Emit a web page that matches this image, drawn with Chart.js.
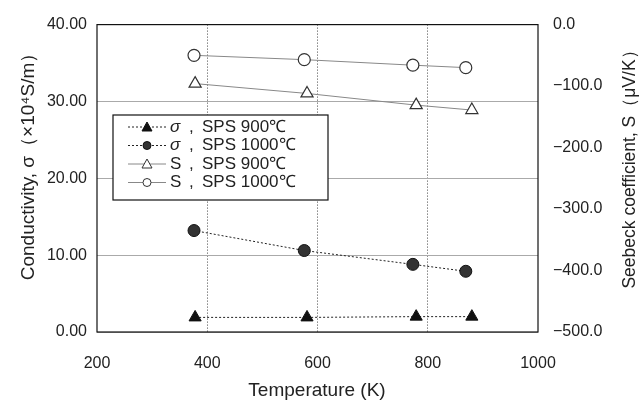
<!DOCTYPE html>
<html>
<head>
<meta charset="utf-8">
<script src="https://cdn.jsdelivr.net/npm/chart.js@4"></script>
<style>
  body { margin: 0; background: #fff; }
  #wrap { width: 640px; height: 401px; }
</style>
</head>
<body>
<div id="wrap"><canvas id="canvas" width="640" height="401"></canvas></div>
<script>
// temperatures (K) for the two sintering conditions
let temp900 = [378, 581, 779, 880]
let temp1000 = [376, 576, 773, 869]

// conductivity (x10^4 S/m)
let sigma900 = [1.9, 1.9, 2.0, 2.0]
let sigma1000 = [13.2, 10.6, 8.8, 7.9]

// Seebeck coefficient (uV/K)
let seebeck900 = [-96, -112, -131, -139]
let seebeck1000 = [-50, -57, -66, -70]

let legendLabels = ['σ', 'σ', 'S', 'S']
let legendConds = ['SPS 900℃', 'SPS 1000℃', 'SPS 900℃', 'SPS 1000℃']

let xTitle = 'Temperature (K)'
let yTitle = 'Conductivity, σ（×10⁴S/m）'
let y1Title = 'Seebeck coefficient, S（μV/K）'

let FONT = "'Liberation Sans', Arial, sans-serif"
let INK = '#222'

let toPoints = function(xs, ys) {
  return xs.map((x, i) => ({x: x, y: ys[i]}))
}

// draw a title, shrinking/growing the font so it spans roughly `len` px
let drawTitle = function(ctx, text, x, y, rot, len) {
  ctx.save()
  ctx.font = '18px ' + FONT
  let size = Math.min(19, 18 * len / ctx.measureText(text).width)
  ctx.translate(x, y)
  ctx.rotate(rot)
  ctx.font = size.toFixed(1) + 'px ' + FONT
  ctx.fillStyle = INK
  ctx.textAlign = 'center'
  ctx.textBaseline = 'middle'
  ctx.fillText(text, 0, 0)
  ctx.restore()
}

let frameAndLegend = {
  id: 'frameAndLegend',
  afterDraw(chart) {
    let ctx = chart.ctx
    let a = chart.chartArea
    ctx.save()
    ctx.strokeStyle = '#111'
    ctx.lineWidth = 1.2
    ctx.strokeRect(a.left, a.top, a.right - a.left, a.bottom - a.top)

    // legend box inside the plot
    let bx = 113, by = 115, bw = 215, bh = 85
    ctx.fillStyle = '#fff'
    ctx.fillRect(bx, by, bw, bh)
    ctx.strokeStyle = '#111'
    ctx.lineWidth = 1.2
    ctx.strokeRect(bx, by, bw, bh)

    chart.data.datasets.forEach((ds, i) => {
      let y = 127 + i * 18.5
      ctx.strokeStyle = ds.borderColor
      ctx.lineWidth = 1
      ctx.setLineDash(ds.borderDash || [])
      ctx.beginPath()
      ctx.moveTo(128, y)
      ctx.lineTo(166, y)
      ctx.stroke()
      ctx.setLineDash([])
      ctx.fillStyle = ds.pointBackgroundColor
      ctx.strokeStyle = ds.pointBorderColor
      ctx.beginPath()
      if (ds.pointStyle === 'triangle') {
        ctx.moveTo(147, y - 5)
        ctx.lineTo(152, y + 4)
        ctx.lineTo(142, y + 4)
        ctx.closePath()
      } else {
        ctx.arc(147, y, 4, 0, Math.PI * 2)
      }
      ctx.fill()
      ctx.stroke()

      ctx.fillStyle = INK
      ctx.textBaseline = 'middle'
      ctx.font = (legendLabels[i] === 'σ' ? 'italic ' : '') + '17px ' + FONT
      ctx.fillText(legendLabels[i], 170, y)
      ctx.font = '17px ' + FONT
      ctx.fillText(',', 189, y)
      ctx.fillText(legendConds[i], 202, y)
    })

    drawTitle(ctx, xTitle, 317, 391, 0, 141)
    drawTitle(ctx, yTitle, 29, 162, -Math.PI / 2, 277)
    drawTitle(ctx, y1Title, 630, 165, -Math.PI / 2, 246)
    ctx.restore()
  }
}

let renderChart = function() {
  let ctx = document.getElementById('canvas').getContext('2d')

  window.my_chart = new Chart(ctx, {
    type: 'line',
    data: {
      datasets: [
        {
          label: 'σ, SPS 900℃',
          data: toPoints(temp900, sigma900),
          yAxisID: 'y',
          borderColor: '#222',
          borderWidth: 1,
          borderDash: [2, 2],
          pointStyle: 'triangle',
          pointRadius: 7,
          pointBackgroundColor: '#111',
          pointBorderColor: '#111',
          pointBorderWidth: 1
        },
        {
          label: 'σ, SPS 1000℃',
          data: toPoints(temp1000, sigma1000),
          yAxisID: 'y',
          borderColor: '#222',
          borderWidth: 1,
          borderDash: [2, 2],
          pointStyle: 'circle',
          pointRadius: 6,
          pointBackgroundColor: '#333',
          pointBorderColor: '#111',
          pointBorderWidth: 1
        },
        {
          label: 'S, SPS 900℃',
          data: toPoints(temp900, seebeck900),
          yAxisID: 'y1',
          borderColor: '#888',
          borderWidth: 1,
          pointStyle: 'triangle',
          pointRadius: 7,
          pointBackgroundColor: '#fff',
          pointBorderColor: '#333',
          pointBorderWidth: 1.2
        },
        {
          label: 'S, SPS 1000℃',
          data: toPoints(temp1000, seebeck1000),
          yAxisID: 'y1',
          borderColor: '#888',
          borderWidth: 1,
          pointStyle: 'circle',
          pointRadius: 6,
          pointBackgroundColor: '#fff',
          pointBorderColor: '#333',
          pointBorderWidth: 1.2
        }
      ]
    },
    options: {
      responsive: false,
      animation: false,
      layout: { padding: { top: 18, left: 0, right: 0, bottom: 0 } },
      plugins: {
        legend: { display: false },
        tooltip: { enabled: false }
      },
      scales: {
        x: {
          type: 'linear',
          min: 200,
          max: 1000,
          afterFit: s => { s.height = 69 },
          ticks: {
            stepSize: 200,
            padding: 22,
            color: INK,
            callback: v => String(v),
            font: { family: FONT, size: 16 }
          },
          grid: {
            drawTicks: false,
            color: c => (c.tick.value === 200 || c.tick.value === 1000) ? 'rgba(0,0,0,0)' : '#444',
            lineWidth: 1
          },
          border: { display: false, dash: [1, 2] }
        },
        y: {
          position: 'left',
          min: 0,
          max: 40,
          afterFit: s => { s.width = 97 },
          ticks: {
            stepSize: 10,
            padding: 10,
            color: INK,
            callback: v => v.toFixed(2),
            font: { family: FONT, size: 16 }
          },
          grid: {
            drawTicks: false,
            color: '#aaa',
            lineWidth: 1
          },
          border: { display: false }
        },
        y1: {
          position: 'right',
          min: -500,
          max: 0,
          afterFit: s => { s.width = 102 },
          ticks: {
            stepSize: 100,
            padding: 15,
            color: INK,
            callback: v => (v < 0 ? '−' + Math.abs(v).toFixed(1) : v.toFixed(1)),
            font: { family: FONT, size: 16 }
          },
          grid: { display: false, drawTicks: false },
          border: { display: false }
        }
      }
    },
    plugins: [frameAndLegend]
  })
}

renderChart()
</script>
</body>
</html>
